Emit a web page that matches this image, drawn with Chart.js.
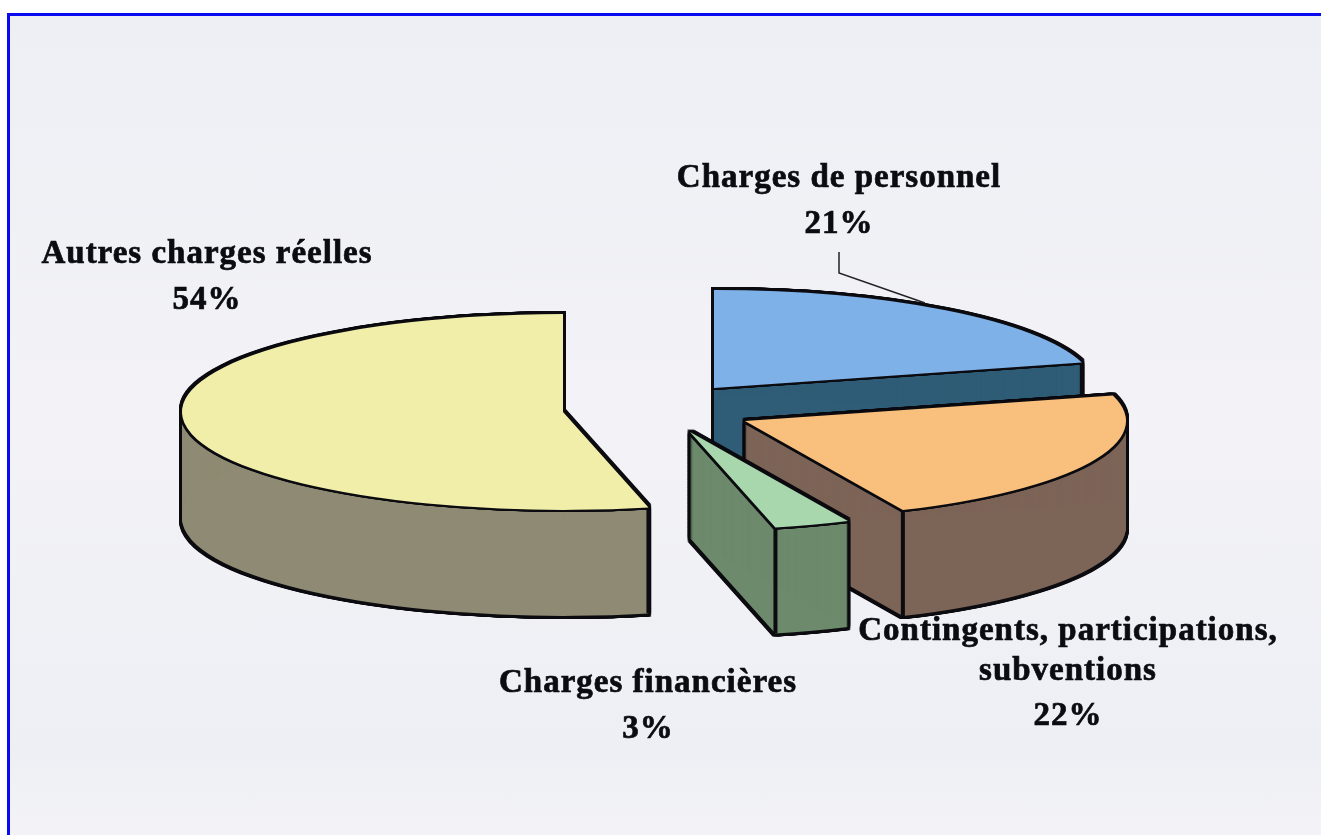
<!DOCTYPE html>
<html>
<head>
<meta charset="utf-8">
<title>Charges</title>
<script src="https://cdn.jsdelivr.net/npm/chart.js@4"></script>
<style>
html, body { margin: 0; padding: 0; background: #fff; overflow: hidden; }
#frame {
    position: absolute; left: 7px; top: 13px; width: 1314px; height: 822px; box-sizing: border-box;
    border-left: 3px solid #0a0af0; border-top: 3px solid #0a0af0;
    background: linear-gradient(180deg, #eeeff4 0%, #f2f2f7 50%, #eeeff4 90%, #f3f3f7 100%);
}
#graf { position: absolute; left: 0; top: 0; }
</style>
</head>
<body>
<div id="frame"></div>
<canvas id="graf" width="1321" height="835"></canvas>
<script>
var categorias = ["Charges de personnel", "Contingents, participations, subventions", "Charges financières", "Autres charges réelles"];
var valores = [20.8, 22.4, 3.2, 53.6];
var coloresCara = ["#7fb1e9", "#f9bf7c", "#a9d7ad", "#f1eeaa"];
var coloresLado = ["#2f5c76", "#7c6457", "#6d8a6c", "#8e8a73"];

// centre of every slice once pulled out of the pie
var centrosX = [714, 745, 690, 563];
var centrosY = [388, 421, 432, 412];
var ordenPintado = [3, 0, 1, 2];
var aplastado = 0.257;
var altura = 106;

var etiquetas = [
    ["Charges de personnel", 839, 187], ["21%", 839, 233],
    ["Autres charges réelles", 207, 263], ["54%", 207, 309],
    ["Contingents, participations,", 1068, 640], ["subventions", 1068, 680], ["22%", 1068, 725],
    ["Charges financières", 648, 692], ["3%", 648, 738]
];
var guiaX = [839, 839, 925];
var guiaY = [252, 273, 303];

function pintarArco(ctx, arco, i, dx, dy, color) {
    var original = arco.options;
    arco.options = {
        backgroundColor: color, borderColor: color, borderWidth: 0, borderAlign: "center",
        borderRadius: 0, borderDash: [], borderDashOffset: 0, borderJoinStyle: "round",
        offset: 0, spacing: 0, circular: true
    };
    ctx.save();
    ctx.translate(centrosX[i] + dx, centrosY[i] + dy);
    ctx.scale(1, aplastado);
    ctx.translate(-arco.x, -arco.y);
    arco.draw(ctx);
    ctx.restore();
    arco.options = original;
}

function contorno(ctx, arco, i, dy, g) {
    for (var a = -g; a <= g; a++) {
        for (var b = -g; b <= g; b++) {
            pintarArco(ctx, arco, i, a, dy + b, "#0b0b10");
        }
    }
}

var pastel3d = {
    id: "pastel3d",
    beforeDatasetsDraw: function (chart) {
        var ctx = chart.ctx;
        var arcos = chart.getDatasetMeta(0).data;
        ordenPintado.forEach(function (i) {
            var arco = arcos[i];
            var d;
            // black silhouette of the side, then the side on top of it
            for (d = 0; d <= altura; d += 2) contorno(ctx, arco, i, d, 3);
            for (d = 0; d <= altura; d++) pintarArco(ctx, arco, i, 0, d, coloresLado[i]);

            // vertical edge at the lowest rim corner
            var ang = Math.sin(arco.startAngle) > Math.sin(arco.endAngle) ? arco.startAngle : arco.endAngle;
            var ex = centrosX[i] + Math.cos(ang) * arco.outerRadius;
            var ey = centrosY[i] + Math.sin(ang) * arco.outerRadius * aplastado;
            ctx.save();
            ctx.strokeStyle = "#0b0b10";
            ctx.lineWidth = 4;
            ctx.beginPath();
            ctx.moveTo(ex, ey);
            ctx.lineTo(ex, ey + altura);
            ctx.stroke();
            ctx.restore();

            contorno(ctx, arco, i, 0, 2);
            pintarArco(ctx, arco, i, 0, 0, coloresCara[i]);
        });
        return false;
    },
    afterDraw: function (chart) {
        var ctx = chart.ctx;
        ctx.save();
        ctx.strokeStyle = "#222";
        ctx.lineWidth = 1.5;
        ctx.beginPath();
        guiaX.forEach(function (x, j) {
            if (j == 0) ctx.moveTo(x, guiaY[j]); else ctx.lineTo(x, guiaY[j]);
        });
        ctx.stroke();
        ctx.fillStyle = "#0b0b12";
        ctx.strokeStyle = "#0b0b12";
        ctx.lineWidth = 0.7;
        ctx.font = "bold 33px 'Liberation Serif'";
        ctx.letterSpacing = "1px";
        ctx.textAlign = "center";
        etiquetas.forEach(function (e) {
            ctx.fillText(e[0], e[1], e[2]);
            ctx.strokeText(e[0], e[1], e[2]);
        });
        ctx.restore();
    }
};

var grafica = new Chart(document.querySelector("#graf"), {
    type: "pie",
    data: {
        labels: categorias,
        datasets: [{
            data: valores,
            backgroundColor: coloresCara,
            borderWidth: 0,
            clip: false
        }]
    },
    options: {
        responsive: false,
        animation: false,
        radius: 381,
        events: [],
        plugins: {
            legend: { display: false },
            tooltip: { enabled: false }
        }
    },
    plugins: [pastel3d]
});
</script>
</body>
</html>
